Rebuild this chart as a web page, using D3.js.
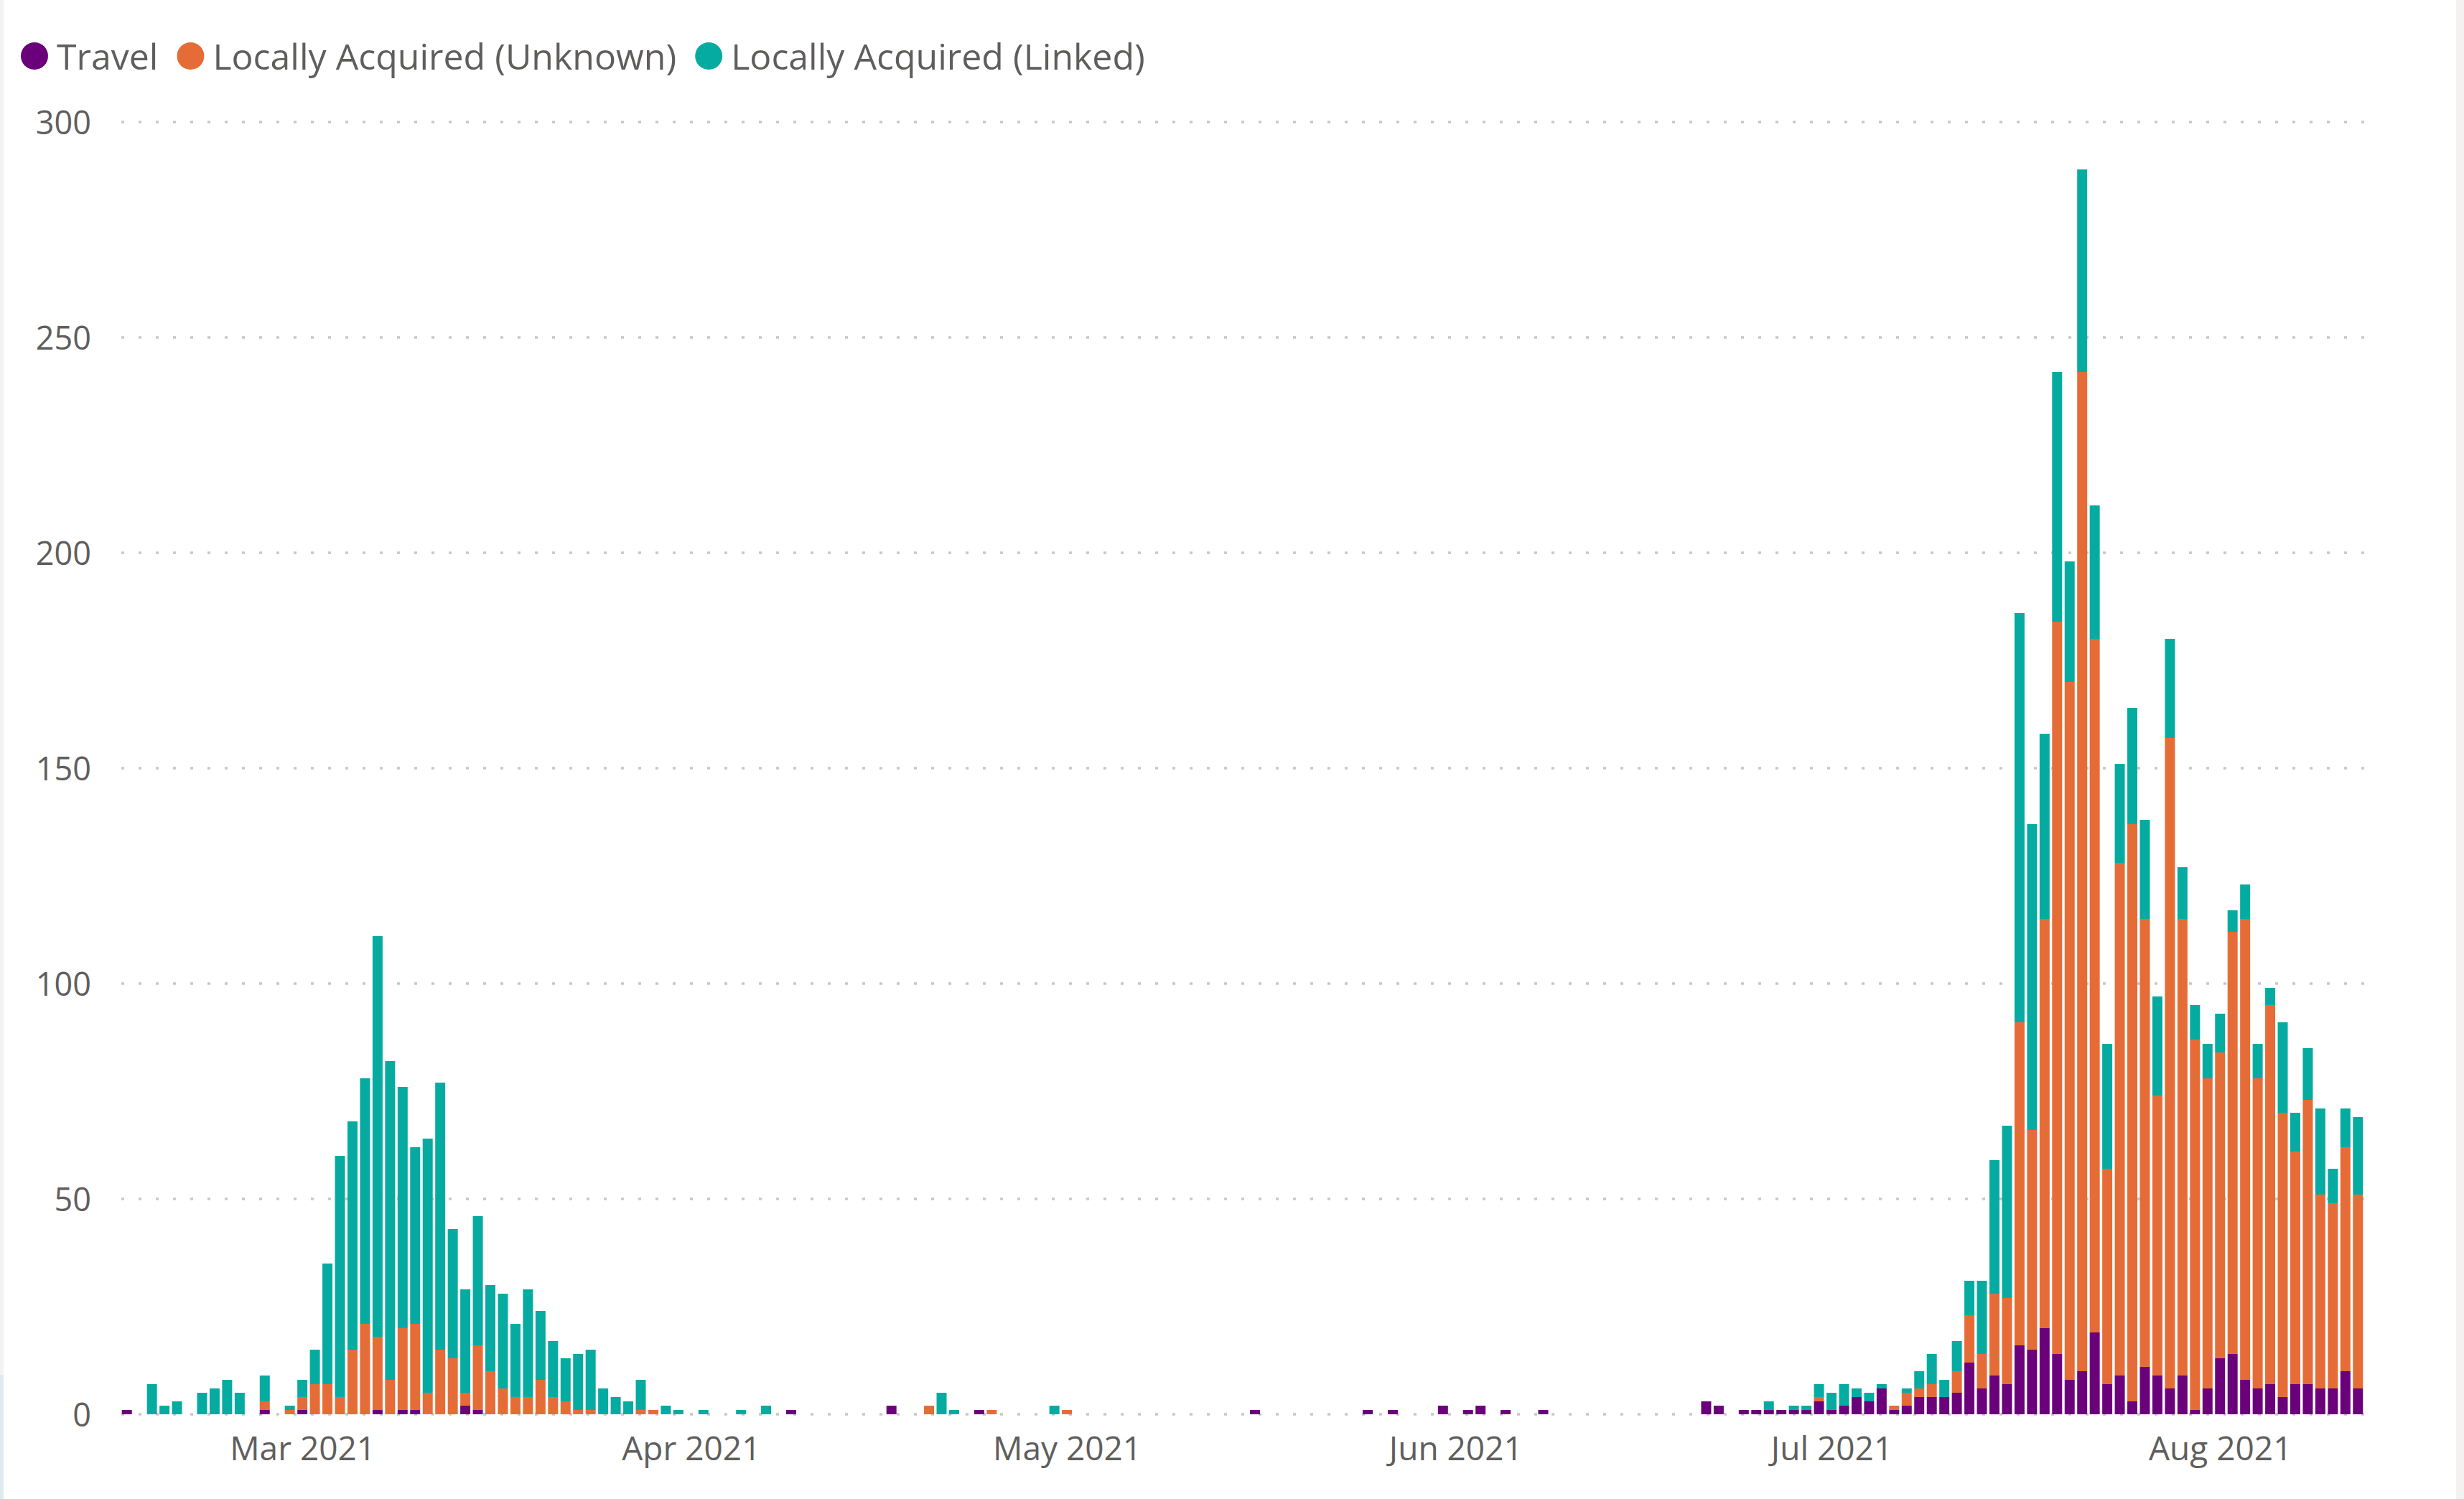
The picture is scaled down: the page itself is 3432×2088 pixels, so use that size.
<!DOCTYPE html>
<html lang="en">
<head>
    <meta charset="UTF-8">
    <title>Daily cases by source</title>
    <script src="https://d3js.org/d3.v7.min.js"></script>
    <style>
        body { margin: 0; background: #fff; }
        text { font-family: "Segoe UI", "Open Sans", sans-serif; fill: #605E5C; }
    </style>
</head>
<body>
    <svg id="chart" width="3432" height="2088"></svg>

    <script>
        // daily counts, first day 15 Feb 2021
        const firstDay = "2021-02-15";

        const travel = [
            1,0,0,0,0,0,0,0,0,0,
            0,1,0,0,1,0,0,0,0,0,
            1,0,1,1,0,0,0,2,1,0,
            0,0,0,0,0,0,0,0,0,0,
            0,0,0,0,0,0,0,0,0,0,
            0,0,0,1,0,0,0,0,0,0,
            0,2,0,0,0,0,0,0,1,0,
            0,0,0,0,0,0,0,0,0,0,
            0,0,0,0,0,0,0,0,0,0,
            1,0,0,0,0,0,0,0,0,1,
            0,1,0,0,0,2,0,1,2,0,
            1,0,0,1,0,0,0,0,0,0,
            0,0,0,0,0,0,3,2,0,1,
            1,1,1,1,1,3,1,2,4,3,
            6,1,2,4,4,4,5,12,6,9,
            7,16,15,20,14,8,10,19,7,9,
            3,11,9,6,9,1,6,13,14,8,
            6,7,4,7,7,6,6,10,6
        ];

        const unknown = [
            0,0,0,0,0,0,0,0,0,0,
            0,2,0,1,3,7,7,4,15,21,
            17,8,19,20,5,15,13,3,15,10,
            6,4,4,8,4,3,1,1,0,0,
            0,1,1,0,0,0,0,0,0,0,
            0,0,0,0,0,0,0,0,0,0,
            0,0,0,0,2,0,0,0,0,1,
            0,0,0,0,0,1,0,0,0,0,
            0,0,0,0,0,0,0,0,0,0,
            0,0,0,0,0,0,0,0,0,0,
            0,0,0,0,0,0,0,0,0,0,
            0,0,0,0,0,0,0,0,0,0,
            0,0,0,0,0,0,0,0,0,0,
            0,0,0,0,0,1,0,0,0,0,
            0,1,3,2,3,0,5,11,8,19,
            20,75,51,95,170,162,232,161,50,119,
            134,104,65,151,106,86,72,71,98,107,
            72,88,66,54,66,45,43,52,45
        ];

        const linked = [
            0,0,7,2,3,0,5,6,8,5,
            0,6,0,1,4,8,28,56,53,57,
            93,74,56,41,59,62,30,24,30,20,
            22,17,25,16,13,10,13,14,6,4,
            3,7,0,2,1,0,1,0,0,1,
            0,2,0,0,0,0,0,0,0,0,
            0,0,0,0,0,5,1,0,0,0,
            0,0,0,0,2,0,0,0,0,0,
            0,0,0,0,0,0,0,0,0,0,
            0,0,0,0,0,0,0,0,0,0,
            0,0,0,0,0,0,0,0,0,0,
            0,0,0,0,0,0,0,0,0,0,
            0,0,0,0,0,0,0,0,0,0,
            0,2,0,1,1,3,4,5,2,2,
            1,0,1,4,7,4,7,8,17,31,
            40,95,71,43,58,28,47,31,29,23,
            27,23,23,23,12,8,8,9,5,8,
            8,4,21,9,12,20,8,9,18
        ];

        const seriesKeys = ["travel", "unknown", "linked"];
        const seriesNames = ["Travel", "Locally Acquired (Unknown)", "Locally Acquired (Linked)"];
        const seriesColors = ["#6B007B", "#E66C37", "#05ABA0"];
        const yTicks = [0, 50, 100, 150, 200, 250, 300];
        const monthTicks = ["2021-03-01", "2021-04-01", "2021-05-01", "2021-06-01", "2021-07-01", "2021-08-01"];

        const svg = d3.select("#chart");
        const width = +svg.attr("width");
        const height = +svg.attr("height");

        // window edges
        svg.append("rect").attr("x", 0).attr("y", 0).attr("width", 5).attr("height", height).attr("fill", "#F3F2F1");
        svg.append("rect").attr("x", 0).attr("y", 1915).attr("width", 5).attr("height", 173).attr("fill", "#DCEBEB");
        svg.append("rect").attr("x", width - 11).attr("y", 0).attr("width", 11).attr("height", height).attr("fill", "#F3F2F1");

        const parse = d3.utcParse("%Y-%m-%d");
        const start = parse(firstDay);
        const rows = travel.map((v, i) => ({
            date: d3.utcDay.offset(start, i),
            travel: v,
            unknown: unknown[i],
            linked: linked[i]
        }));

        const lastDay = rows[rows.length - 1].date;
        const x = d3.scaleUtc()
            .domain([d3.utcHour.offset(start, -12), d3.utcHour.offset(lastDay, 12)])
            .range([168, 3293]);

        const y = d3.scaleLinear()
            .domain([0, 300])
            .range([1970, 170]);

        // gridlines
        svg.append("g")
            .selectAll("line")
            .data(yTicks)
            .join("line")
            .attr("x1", 169)
            .attr("x2", 3295)
            .attr("y1", d => y(d))
            .attr("y2", d => y(d))
            .attr("stroke", "#C8C8C8")
            .attr("stroke-width", 3.5)
            .attr("stroke-dasharray", "4 20");

        // stacked bars
        const stacked = d3.stack().keys(seriesKeys)(rows);
        const dayW = x(d3.utcDay.offset(start, 1)) - x(start);
        const barW = dayW * 0.8;

        svg.append("g")
            .selectAll("g")
            .data(stacked)
            .join("g")
            .attr("fill", (d, i) => seriesColors[i])
            .selectAll("rect")
            .data(d => d.filter(p => p[1] > p[0]))
            .join("rect")
            .attr("x", d => x(d.data.date) - barW / 2)
            .attr("width", barW)
            .attr("y", d => y(d[1]))
            .attr("height", d => y(d[0]) - y(d[1]));

        // y axis
        const yAxis = svg.append("g")
            .attr("transform", "translate(127,0)")
            .call(d3.axisLeft(y).tickValues(yTicks).tickSize(0).tickPadding(0));
        yAxis.select(".domain").remove();
        yAxis.selectAll("text")
            .attr("x", 0)
            .attr("dy", "0.36em")
            .style("font-size", "45px")
            .style("font-family", null)
            .attr("fill", null);

        // x axis
        const xAxis = svg.append("g")
            .attr("transform", "translate(0,1970)")
            .call(d3.axisBottom(x)
                .tickValues(monthTicks.map(parse))
                .tickFormat(d3.utcFormat("%b %Y"))
                .tickSize(0));
        xAxis.select(".domain").remove();
        xAxis.selectAll("text")
            .attr("y", 64)
            .attr("dy", 0)
            .style("font-size", "46px")
            .attr("fill", null);
        svg.selectAll(".tick text").attr("font-family", null);

        // legend
        const legend = svg.append("g");
        let lx = 48;
        seriesNames.forEach((name, i) => {
            legend.append("circle")
                .attr("cx", lx)
                .attr("cy", 78)
                .attr("r", 19)
                .attr("fill", seriesColors[i]);
            const t = legend.append("text")
                .attr("x", lx + 31)
                .attr("y", 97)
                .style("font-size", "50px")
                .text(name);
            lx += 31 + t.node().getComputedTextLength() + 45;
        });
    </script>
</body>
</html>
